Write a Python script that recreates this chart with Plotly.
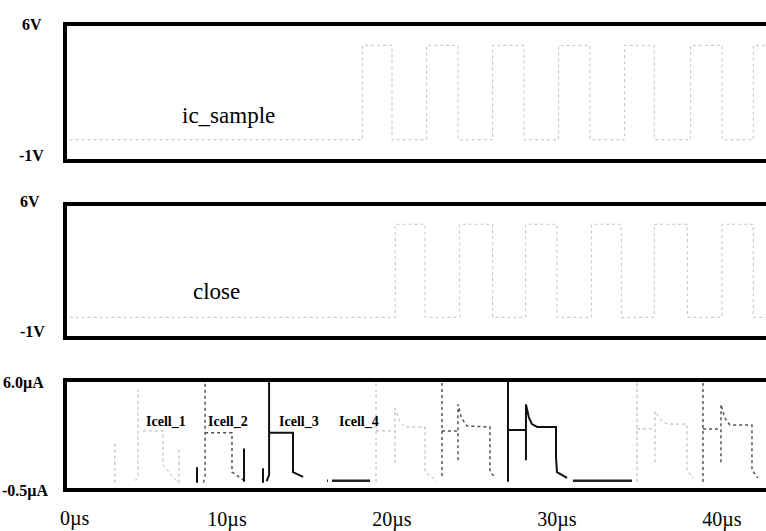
import plotly.graph_objects as go

# ---------------- data (time in µs, voltage in V, current in µA) ----------------
ic_sample_edges = [18.2, 20.0, 22.1, 24.0, 26.1, 28.0, 30.1, 32.0, 34.1, 35.9, 38.1, 40.0, 41.9]
ic_sample_levels = [0, 5]          # low, high
close_edges = [20.2, 22.0, 24.1, 26.1, 28.1, 30.0, 32.1, 33.9, 35.9, 37.9, 40.0, 41.9]
close_levels = [0, 5]

icell1_t = [3.2, 3.2, None, 4.42, 4.6, 4.6, None, 4.9, 6.12, 6.12, 7.03, None, 7.09, 7.09, None,
            19.03, 19.03, None, 19.03, 20.18, None,
            20.18, 20.18, 20.5, 20.8, 22.0, 22.0, 22.73, None,
            34.85, 34.85, None, 34.85, 35.94, None,
            35.94, 35.94, 36.36, 36.67, 37.88, 37.88, 38.24]
icell1_i = [-0.2, 2.27, None, -0.05, 0.1, 5.52, None, 2.99, 2.99, 0.88, -0.2, None, -0.2, 1.97, None,
            6.3, -0.2, None, 2.99, 2.99, None,
            1.0, 4.38, 3.5, 3.23, 3.23, 0.46, -0.1, None,
            6.3, -0.2, None, 3.11, 3.11, None,
            1.06, 4.19, 3.59, 3.41, 3.41, 0.58, 0.1]

icell2_t = [8.67, 8.67, 8.55, None, 8.67, 10.3, 10.3, 11.09, None,
            23.03, 23.03, None, 23.03, 24.0, None,
            24.0, 24.0, 24.2, 24.55, 25.94, 25.94, 26.24, None,
            38.85, 38.85, None, 38.85, 39.94, None,
            39.94, 39.94, 40.18, 40.48, 41.82, 41.82, 42.18]
icell2_i = [5.88, 0.1, -0.2, None, 2.87, 2.87, 0.46, -0.1, None,
            6.3, 0.1, None, 2.99, 2.99, None,
            1.19, 4.62, 3.8, 3.29, 3.23, 0.46, 0.16, None,
            6.3, -0.2, None, 3.11, 3.11, None,
            1.06, 4.62, 3.77, 3.35, 3.35, 0.58, 0.1]

icell3_t = [8.18, 8.18, None, 11.03, 11.03, None, 12.18, 12.18, None,
            12.4, 12.55, 12.55, None, 12.55, 14.0, 14.0, 14.61, None,
            27.03, 27.03, None, 27.03, 28.12, None,
            28.12, 28.12, 28.3, 28.48, 28.8, 29.94, 29.94, 30.0, 30.61]
icell3_i = [-0.2, 0.76, None, -0.14, 1.91, None, -0.2, 0.7, None,
            -0.1, 0.28, 6.3, None, 2.87, 2.87, 0.46, 0.16, None,
            6.3, -0.14, None, 3.05, 3.05, None,
            1.19, 4.62, 3.8, 3.41, 3.23, 3.23, 1.37, 0.46, 0.1]

icell4_t = [16.06, 16.12, None, 16.36, 18.67, None, 30.97, 34.55]
icell4_i = [-0.08, -0.08, None, -0.08, -0.08, None, -0.08, -0.08]

icell_labels = ["Icell_1", "Icell_2", "Icell_3", "Icell_4"]
icell_label_t = [6.3, 10.06, 14.36, 18.0]
icell_label_i = 3.59

x_tick_vals = [10, 20, 30, 40]
x_tick_text = ["10µs", "20µs", "30µs", "40µs"]
x_range = [0.3, 42.67]


def square(edges, levels, t0=-1.0, t1=45.0):
    xs, ys = [t0], [levels[0]]
    lvl = 0
    for e in edges:
        xs += [e, e]
        ys += [levels[lvl], levels[1 - lvl]]
        lvl = 1 - lvl
    xs.append(t1)
    ys.append(levels[lvl])
    return xs, ys


W, H = 766, 531
def py(p):  # pixel row -> paper y
    return 1 - p / H
def px(p):
    return p / W

SERIF = "Liberation Serif, Times New Roman, serif"
LIGHT = "#c2c2c2"

fig = go.Figure()

sx, sy = square(ic_sample_edges, ic_sample_levels)
fig.add_trace(go.Scatter(x=sx, y=sy, mode="lines", xaxis="x", yaxis="y",
                         line=dict(color=LIGHT, width=1, dash="dot"), hoverinfo="skip"))
cx, cy = square(close_edges, close_levels)
fig.add_trace(go.Scatter(x=cx, y=cy, mode="lines", xaxis="x2", yaxis="y2",
                         line=dict(color=LIGHT, width=1, dash="dot"), hoverinfo="skip"))

fig.add_trace(go.Scatter(x=icell1_t, y=icell1_i, mode="lines", xaxis="x3", yaxis="y3",
                         line=dict(color="#b0b0b0", width=1, dash="dot"), connectgaps=False))
fig.add_trace(go.Scatter(x=icell2_t, y=icell2_i, mode="lines", xaxis="x3", yaxis="y3",
                         line=dict(color="#555555", width=1.5, dash="dot"), connectgaps=False))
fig.add_trace(go.Scatter(x=icell3_t, y=icell3_i, mode="lines", xaxis="x3", yaxis="y3",
                         line=dict(color="#111111", width=2), connectgaps=False))
fig.add_trace(go.Scatter(x=icell4_t, y=icell4_i, mode="lines", xaxis="x3", yaxis="y3",
                         line=dict(color="#222222", width=2.5), connectgaps=False))

xdom = [px(67), 1.0]
ax_common = dict(range=x_range, domain=xdom, showgrid=False, zeroline=False,
                 showline=True, mirror=True, linecolor="black", linewidth=4, ticks="")
ay_common = dict(showgrid=False, zeroline=False, showline=True, mirror=False,
                 linecolor="black", linewidth=4, showticklabels=False, ticks="")

fig.update_layout(
    width=W, height=H, margin=dict(l=0, r=0, t=0, b=0),
    paper_bgcolor="white", plot_bgcolor="white", showlegend=False,
    font=dict(family=SERIF, color="black"),
    xaxis=dict(**ax_common, anchor="y", showticklabels=False),
    xaxis2=dict(**ax_common, anchor="y2", showticklabels=False),
    xaxis3=dict(**ax_common, anchor="y3", showticklabels=True,
                tickvals=x_tick_vals, ticktext=x_tick_text,
                tickfont=dict(family=SERIF, size=20, color="black"),
                ticklabelstandoff=10),
    yaxis=dict(**ay_common, range=[-1, 6], domain=[py(162), py(27)], anchor="x"),
    yaxis2=dict(**ay_common, range=[-1, 6], domain=[py(343), py(210)], anchor="x2"),
    yaxis3=dict(**ay_common, range=[-0.5, 6.0], domain=[py(498), py(390)], anchor="x3"),
)

ann = []
# waveform names
ann.append(dict(x=10.06, y=1.26, xref="x", yref="y", text="ic_sample", showarrow=False,
                font=dict(family=SERIF, size=23)))
ann.append(dict(x=9.39, y=1.37, xref="x2", yref="y2", text="close", showarrow=False,
                font=dict(family=SERIF, size=23)))
for lab, t in zip(icell_labels, icell_label_t):
    ann.append(dict(x=t, y=icell_label_i, xref="x3", yref="y3", text="<b>%s</b>" % lab,
                    showarrow=False, font=dict(family=SERIF, size=14)))
# axis value labels
for text, xl, yc in [("6V", 20, 25), ("-1V", 17, 159), ("6V", 18, 206), ("-1V", 18, 339),
                     ("6.0µA", 1, 391), ("-0.5µA", 0, 501)]:
    ann.append(dict(x=px(xl), y=py(yc), xref="paper", yref="paper", text="<b>%s</b>" % text,
                    showarrow=False, xanchor="left", yanchor="middle",
                    font=dict(family=SERIF, size=16)))
ann.append(dict(x=px(75), y=py(529), xref="paper", yref="paper", text="0µs", showarrow=False,
                xanchor="center", yanchor="middle", font=dict(family=SERIF, size=20)))
fig.update_layout(annotations=ann)

fig.write_html("out.html")
